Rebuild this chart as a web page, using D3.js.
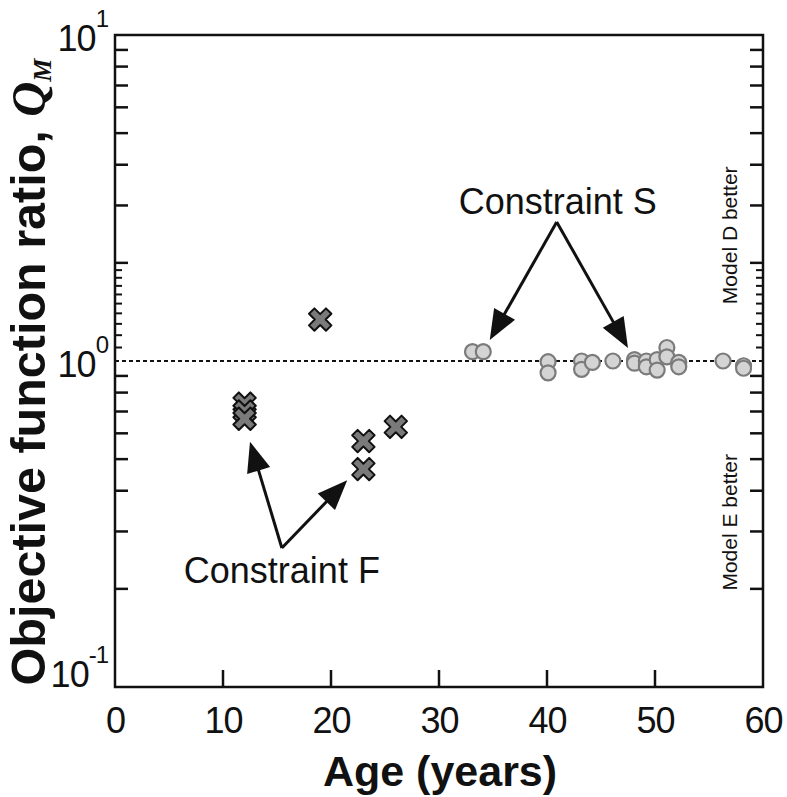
<!DOCTYPE html>
<html><head><meta charset="utf-8">
<script src="https://cdn.jsdelivr.net/npm/d3@7"></script>
<style>body{margin:0;background:#fff}</style></head>
<body><svg id="c" width="787" height="797"></svg>
<script>
// Data
const crossAge   = [12, 12, 12, 19, 23, 23, 26];
const crossRatio = [0.74, 0.70, 0.665, 1.34, 0.568, 0.466, 0.628];
const circleAge   = [33.1, 34.1, 40.1, 40.1, 43.2, 43.2, 44.2, 46.1, 48.1, 48.1, 49.2, 49.2, 50.2, 50.2, 51.1, 51.1, 52.2, 52.2, 56.3, 58.2, 58.2];
const circleRatio = [1.068, 1.068, 0.995, 0.92, 1.0, 0.943, 0.99, 1.0, 1.01, 0.985, 1.0, 0.96, 1.01, 0.938, 1.10, 1.03, 0.99, 0.96, 1.0, 0.967, 0.95];
const xTicks = [0, 10, 20, 30, 40, 50, 60];
const yMajor = [0.1, 1, 10];
const yMajorExp = ["-1", "0", "1"];
const yMinorLong = [0.2,0.3,0.4,0.5,0.6,0.7,0.8,0.9,2,3,4,5,6,7,8,9];
const yMinorShort = [1.1,1.2,1.3,1.4,1.5,1.6,1.7,1.8,1.9];

const svg = d3.select("#c");
const L = 115, R = 763, T = 35, B = 687;
const x = d3.scaleLinear().domain([0, 60]).range([L, R]);
const y = d3.scaleLog().domain([0.1, 10]).range([B, T]);
const font = "Liberation Sans, Arial, Helvetica, sans-serif";

// frame
svg.append("rect").attr("x", L).attr("y", T).attr("width", R - L).attr("height", B - T)
  .attr("fill", "none").attr("stroke", "#111").attr("stroke-width", 2.5);

// x ticks (inward)
const xAxis = d3.axisBottom(x).tickValues(xTicks).tickSize(0).tickPadding(20).tickFormat(d3.format("d"));
const gx = svg.append("g").attr("transform", `translate(0,${B})`).call(xAxis);
gx.select(".domain").remove();
gx.selectAll("text").attr("font-family", font).attr("font-size", 36).attr("letter-spacing", -1)
  .attr("fill", "#111").attr("dy", "0.71em");
svg.selectAll(".xt").data(xTicks.slice(1, -1)).join("line").attr("class", "xt")
  .attr("x1", d => x(d)).attr("x2", d => x(d)).attr("y1", B).attr("y2", B - 17)
  .attr("stroke", "#111").attr("stroke-width", 2.5);

// y ticks on both sides
[[L, 1], [R, -1]].forEach(([ax, dir]) => {
  svg.append("g").selectAll("line").data(yMinorLong).join("line")
    .attr("x1", ax).attr("x2", ax + dir * 13).attr("y1", d => y(d)).attr("y2", d => y(d))
    .attr("stroke", "#111").attr("stroke-width", 2.5);
  svg.append("g").selectAll("line").data(yMinorShort).join("line")
    .attr("x1", ax).attr("x2", ax + dir * 7).attr("y1", d => y(d)).attr("y2", d => y(d))
    .attr("stroke", "#111").attr("stroke-width", 2);
});

// y tick labels 10^n
const yl = svg.append("g").selectAll("text").data(yMajor).join("text")
  .attr("x", L - 7).attr("y", d => y(d) + (d < 1 ? 0 : 16)).attr("text-anchor", "end")
  .attr("font-family", font).attr("font-size", 36).attr("letter-spacing", -1).attr("fill", "#111");
yl.append("tspan").text("10");
yl.append("tspan").text((d, i) => yMajorExp[i]).attr("font-size", 24).attr("dy", -24);

// reference line at 1
svg.append("line").attr("x1", L).attr("x2", R).attr("y1", y(1)).attr("y2", y(1))
  .attr("stroke", "#111").attr("stroke-width", 2.2).attr("stroke-dasharray", "4,3");

function xShape(s) {
  const w = s * 0.32, l = s;
  const plus = [[w,-w],[w,-l],[-w,-l],[-w,-w],[-l,-w],[-l,w],[-w,w],[-w,l],[w,l],[w,w],[l,w],[l,-w]];
  const c = Math.SQRT1_2;
  return "M" + plus.map(([px,py]) => [(px - py) * c, (px + py) * c].map(v => v.toFixed(2)).join(",")).join("L") + "Z";
}
svg.append("g").selectAll("path").data(crossAge).join("path")
  .attr("d", xShape(12))
  .attr("transform", (d, i) => `translate(${x(d)},${y(crossRatio[i])})`)
  .attr("fill", "#7a7a7a").attr("stroke", "#111").attr("stroke-width", 2).attr("stroke-linejoin", "round");

// circles
svg.append("g").selectAll("circle").data(circleAge).join("circle")
  .attr("cx", d => x(d)).attr("cy", (d, i) => y(circleRatio[i])).attr("r", 7.5)
  .attr("fill", "#d4d4d4").attr("stroke", "#7b7b7b").attr("stroke-width", 2.2);

function arrow(x1, y1, x2, y2) {
  const dx = x2 - x1, dy = y2 - y1, len = Math.hypot(dx, dy), ux = dx / len, uy = dy / len;
  const hl = 30, hw = 12;
  svg.append("line").attr("x1", x1).attr("y1", y1).attr("x2", x2 - ux * hl * 0.8).attr("y2", y2 - uy * hl * 0.8)
    .attr("stroke", "#111").attr("stroke-width", 3);
  const bx = x2 - ux * hl, by = y2 - uy * hl;
  svg.append("path").attr("d", `M${x2},${y2}L${bx - uy * hw},${by + ux * hw}L${bx + uy * hw},${by - ux * hw}Z`).attr("fill", "#111");
}
// Constraint S
arrow(x(40.9), y(2.67), x(34.7), y(1.16));
arrow(x(40.9), y(2.67), x(47.5), y(1.096));
// Constraint F
arrow(x(15.45), y(0.267), x(12.5), y(0.565));
arrow(x(15.45), y(0.267), x(21.5), y(0.431));

svg.append("text").attr("x", x(41.0)).attr("y", y(2.82)).attr("text-anchor", "middle")
  .attr("font-family", font).attr("font-size", 36).attr("fill", "#111").text("Constraint S");
svg.append("text").attr("x", x(15.45)).attr("y", y(0.208)).attr("text-anchor", "middle")
  .attr("font-family", font).attr("font-size", 36).attr("fill", "#111").text("Constraint F");

// side labels
svg.append("text").attr("transform", `translate(${x(56.5) + 12},${y(2.43)}) rotate(-90)`).attr("text-anchor", "middle")
  .attr("font-family", font).attr("font-size", 21).attr("fill", "#111").text("Model D better");
svg.append("text").attr("transform", `translate(${x(56.5) + 12},${y(0.32)}) rotate(-90)`).attr("text-anchor", "middle")
  .attr("font-family", font).attr("font-size", 21).attr("fill", "#111").text("Model E better");

// axis titles
svg.append("text").attr("x", (L + R) / 2 + 1).attr("y", 786).attr("text-anchor", "middle")
  .attr("font-family", font).attr("font-weight", "bold").attr("font-size", 43).attr("fill", "#111").text("Age (years)");
const yt = svg.append("text").attr("transform", `translate(45,372) rotate(-90)`).attr("text-anchor", "middle")
  .attr("font-family", font).attr("font-weight", "bold").attr("font-size", 48.5).attr("fill", "#111");
yt.append("tspan").text("Objective function ratio, ");
yt.append("tspan").text("Q").attr("font-family", "Liberation Serif, Times New Roman, serif").attr("font-style", "italic");
yt.append("tspan").text("M").attr("font-family", "Liberation Serif, Times New Roman, serif").attr("font-style", "italic")
  .attr("font-size", 26).attr("dy", 6);
</script></body></html>
